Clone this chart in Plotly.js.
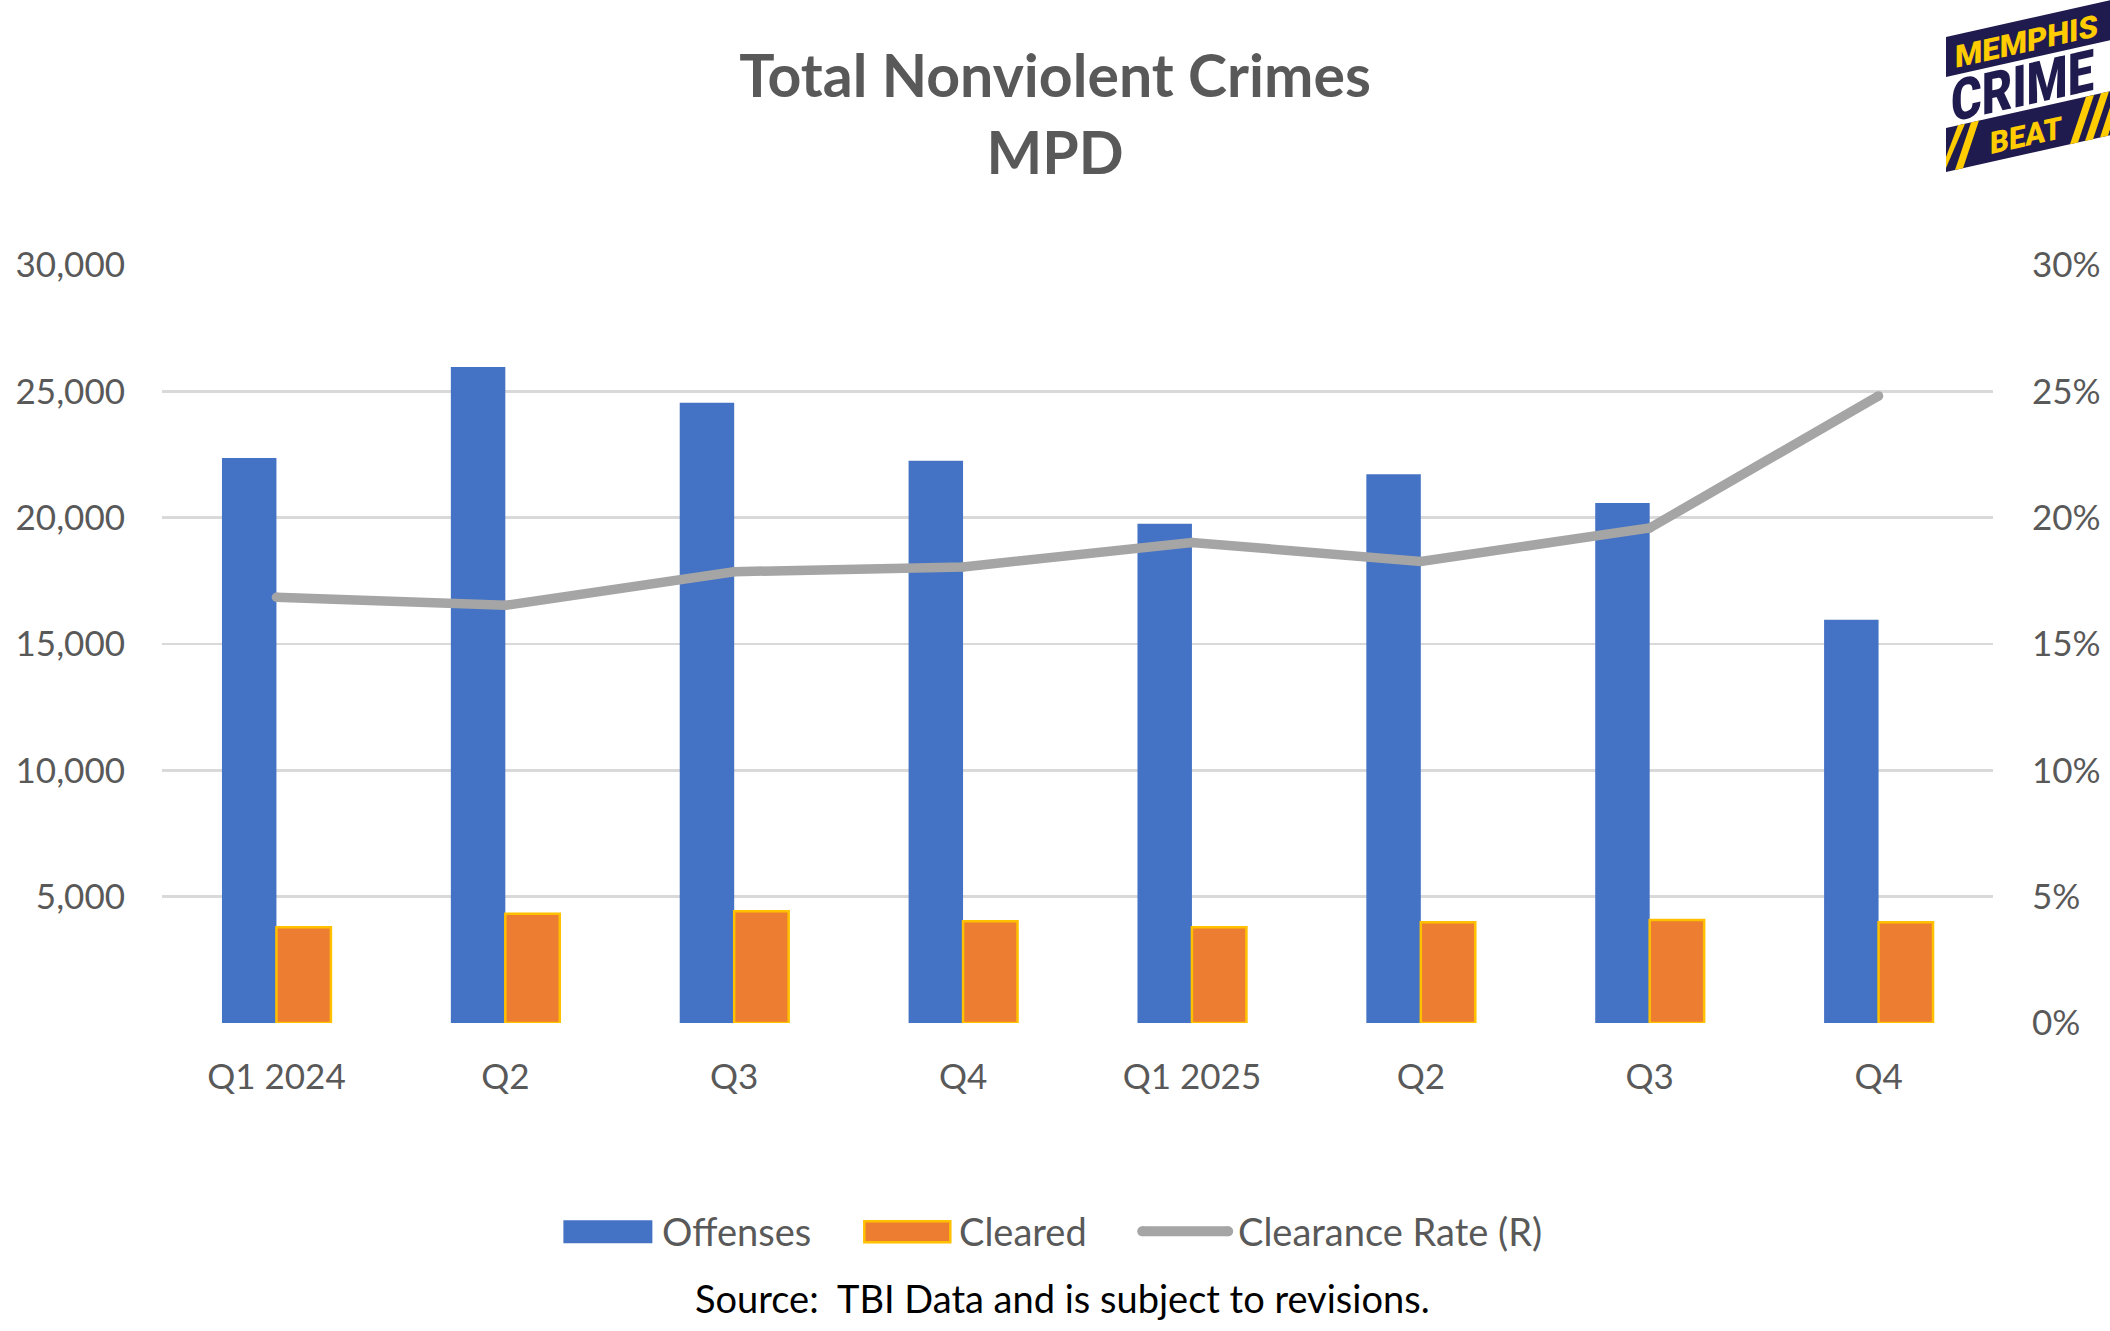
<!DOCTYPE html>
<html>
<head>
<meta charset="utf-8">
<script src="https://cdn.plot.ly/plotly-3.0.1.min.js"></script>
<style>
  html, body { margin:0; padding:0; background:#fff; }
  #wrap { position:relative; width:2110px; height:1331px; overflow:hidden; }
  #chart { position:absolute; left:0; top:0; width:2110px; height:1331px; }
  #logo { position:absolute; left:0; top:0; pointer-events:none; }
</style>
</head>
<body>
<div id="wrap">
  <div id="chart"></div>
  <svg id="logo" width="2110" height="1331" xmlns="http://www.w3.org/2000/svg">
    <g transform="translate(1946,37) skewY(-12.6)">
      <rect x="0" y="0" width="164" height="40" fill="#1f1b4f"/>
      <rect x="0" y="91" width="164" height="44" fill="#1f1b4f"/>
      <polygon points="0,131 0,120 12,91 19,91" fill="#ffcc00"/>
      <polygon points="9,135 17,135 33,91 25,91" fill="#ffcc00"/>
      <polygon points="124,135 132,135 148,91 140,91" fill="#ffcc00"/>
      <polygon points="139,135 147,135 163,91 155,91" fill="#ffcc00"/>
      <polygon points="154,135 162,135 164,129 164,107" fill="#ffcc00"/>
      <text x="9" y="33" font-family="Roboto, 'DejaVu Sans'" font-weight="900" font-size="31" fill="#ffcc00" textLength="143" lengthAdjust="spacingAndGlyphs">MEMPHIS</text>
      <text x="44" y="127" font-family="Roboto, 'DejaVu Sans'" font-weight="900" font-size="31" fill="#ffcc00" textLength="72" lengthAdjust="spacingAndGlyphs">BEAT</text>
      <text x="5" y="86" font-family="Roboto, 'DejaVu Sans'" font-weight="900" font-size="58" fill="#1f1b4f" textLength="143" lengthAdjust="spacingAndGlyphs">CRIME</text>
    </g>
  </svg>
</div>
<script>
// ---- data ----
const categories = ['Q1 2024', 'Q2', 'Q3', 'Q4', 'Q1 2025', 'Q2', 'Q3', 'Q4'];
const offenses = [22360, 25960, 24550, 22250, 19760, 21720, 20580, 15960];
const cleared = [3790, 4320, 4420, 4030, 3790, 3990, 4080, 3990];
const clearanceRate = [0.1685, 0.1653, 0.1786, 0.1805, 0.1902, 0.1827, 0.1959, 0.2482];
const leftTickVals = [0, 5000, 10000, 15000, 20000, 25000, 30000];
const leftTickText = ['', '5,000', '10,000', '15,000', '20,000', '25,000', '30,000'];
const rightTickVals = [0, 0.05, 0.10, 0.15, 0.20, 0.25, 0.30];
const rightTickText = ['0%', '5%', '10%', '15%', '20%', '25%', '30%'];
const seriesNames = ['Offenses', 'Cleared', 'Clearance Rate (R)'];

const xIdx = categories.map((c, i) => i);

const FONT = 'Lato, "Open Sans", sans-serif';
const GRAY = '#595959';

// plot area in page pixels
const W = 2110, H = 1331;
const PL = 161.5, PR = 1993, PT = 265, PB = 1023.5;
const px = x => (x - PL) / (PR - PL);
const py = y => (PB - y) / (PB - PT);

const traces = [
  {
    type: 'bar', name: seriesNames[0], x: xIdx, y: offenses,
    marker: { color: '#4472C4' }, showlegend: false, hoverinfo: 'y'
  },
  {
    type: 'bar', name: seriesNames[1], x: xIdx, y: cleared,
    marker: { color: '#ED7D31', line: { color: '#FFC000', width: 2.5 } },
    showlegend: false, hoverinfo: 'y'
  },
  {
    type: 'scatter', mode: 'lines+markers', name: seriesNames[2], x: xIdx, y: clearanceRate,
    yaxis: 'y2', line: { color: '#A5A5A5', width: 9.5 },
    marker: { color: '#A5A5A5', size: 9.5 }, showlegend: false, hoverinfo: 'y'
  }
];

// custom legend (shapes + text)
const legY = 1232;
const shapes = [
  { type: 'rect', xref: 'paper', yref: 'paper', x0: px(563), x1: px(652), y0: py(1244), y1: py(1221),
    fillcolor: '#4472C4', line: { width: 0 } },
  { type: 'rect', xref: 'paper', yref: 'paper', x0: px(864), x1: px(950), y0: py(1243), y1: py(1222),
    fillcolor: '#ED7D31', line: { color: '#FFC000', width: 2.5 } },
  { type: 'line', xref: 'paper', yref: 'paper', x0: px(1142), x1: px(1228), y0: py(legY), y1: py(legY),
    line: { color: '#A5A5A5', width: 10 } },
  { type: 'circle', xref: 'paper', yref: 'paper', x0: px(1137), x1: px(1147), y0: py(legY + 5), y1: py(legY - 5),
    fillcolor: '#A5A5A5', line: { width: 0 } },
  { type: 'circle', xref: 'paper', yref: 'paper', x0: px(1223), x1: px(1233), y0: py(legY + 5), y1: py(legY - 5),
    fillcolor: '#A5A5A5', line: { width: 0 } }
];

const legendTextStarts = [660, 957, 1236];
const annotations = seriesNames.map((n, i) => ({
  text: n, xref: 'paper', yref: 'paper', x: px(legendTextStarts[i]), y: py(legY),
  xanchor: 'left', yanchor: 'middle', showarrow: false,
  font: { family: FONT, size: 38, color: GRAY }
}));
annotations.push({
  text: 'Source:  TBI Data and is subject to revisions.', xref: 'paper', yref: 'paper',
  x: px(1062), y: py(1299), xanchor: 'center', yanchor: 'middle', showarrow: false,
  font: { family: FONT, size: 38, color: '#000000' }
});

const layout = {
  width: W, height: H,
  margin: { l: PL, r: W - PR, t: PT, b: H - PB, pad: 0 },
  paper_bgcolor: '#ffffff', plot_bgcolor: '#ffffff',
  font: { family: FONT, color: GRAY },
  title: {
    text: 'Total Nonviolent Crimes<br>MPD',
    font: { family: FONT, size: 59, color: GRAY, weight: 700 },
    x: 0.5, xref: 'container', xanchor: 'center',
    y: 1 - 97 / H, yref: 'container', yanchor: 'top'
  },
  barmode: 'group', bargap: 0.524, bargroupgap: 0,
  xaxis: {
    range: [-0.5, 7.5], tickvals: xIdx, ticktext: categories,
    showgrid: false, zeroline: false, showline: false, ticks: '',
    tickfont: { family: FONT, size: 35, color: GRAY }, ticklabelstandoff: 30,
    fixedrange: true
  },
  yaxis: {
    range: [0, 30000], tickvals: leftTickVals, ticktext: leftTickText,
    showgrid: true, gridcolor: '#D9D9D9', gridwidth: 2.5,
    zeroline: false, showline: false, ticks: '',
    tickfont: { family: FONT, size: 35, color: GRAY }, ticklabelstandoff: 36,
    fixedrange: true
  },
  yaxis2: {
    range: [0, 0.30], tickvals: rightTickVals, ticktext: rightTickText,
    overlaying: 'y', side: 'right', showgrid: false, zeroline: false, showline: false, ticks: '',
    tickfont: { family: FONT, size: 35, color: GRAY }, ticklabelstandoff: 38,
    fixedrange: true
  },
  shapes: shapes,
  annotations: annotations,
  showlegend: false
};

Plotly.newPlot('chart', traces, layout, { displayModeBar: false, staticPlot: true });
</script>
</body>
</html>
